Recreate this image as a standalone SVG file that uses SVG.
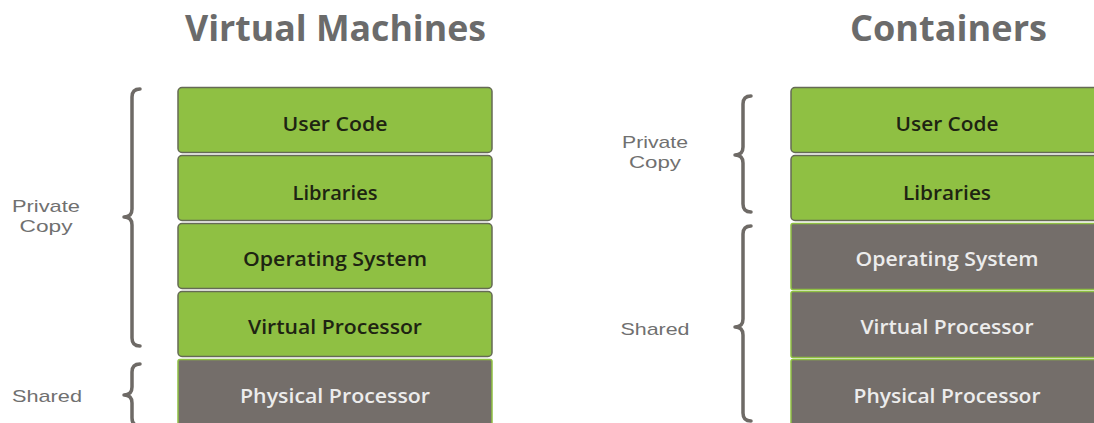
<svg xmlns="http://www.w3.org/2000/svg" width="1094" height="423" viewBox="0 0 1094 423">
<style>
.title{font-family:"Open Sans","Liberation Sans",sans-serif;font-weight:700;font-size:35px;fill:#6b6b6b;text-anchor:middle}
.side{font-family:"Liberation Sans","Open Sans",sans-serif;font-size:17px;fill:#707070;text-anchor:middle}
.lbl{font-family:"Open Sans","Liberation Sans",sans-serif;font-weight:600;font-size:20px;text-anchor:middle}
.g rect{fill:#8fc043;stroke:#656a55;stroke-width:1.5}
.g text{fill:#1e2412}
.d rect{fill:#746e6a;stroke:#8fc043;stroke-width:1.5}
.d text{fill:#ececec}
.brace{fill:none;stroke:#6e6a66;stroke-width:3.5;stroke-linecap:round;stroke-linejoin:round}
</style>
<rect width="1094" height="423" fill="#ffffff"/>
<text class="title" x="335.5" y="41" textLength="301" lengthAdjust="spacingAndGlyphs">Virtual Machines</text>
<text class="title" x="948.5" y="41" textLength="197" lengthAdjust="spacingAndGlyphs">Containers</text>

<g id="vm-user-code" class="g"><rect x="178" y="87.5" width="314" height="65" rx="4"/><text class="lbl" x="335" y="131" textLength="105" lengthAdjust="spacingAndGlyphs">User Code</text></g>
<g id="vm-libraries" class="g"><rect x="178" y="155.5" width="314" height="65" rx="4"/><text class="lbl" x="335" y="200" textLength="85" lengthAdjust="spacingAndGlyphs">Libraries</text></g>
<g id="vm-os" class="g"><rect x="178" y="223.5" width="314" height="65" rx="4"/><text class="lbl" x="335" y="266" textLength="184" lengthAdjust="spacingAndGlyphs">Operating System</text></g>
<g id="vm-vp" class="g"><rect x="178" y="291.5" width="314" height="65" rx="4"/><text class="lbl" x="335" y="334" textLength="174" lengthAdjust="spacingAndGlyphs">Virtual Processor</text></g>
<g id="vm-pp" class="d"><rect x="178" y="359.5" width="314" height="70" rx="2"/><text class="lbl" x="335" y="403" textLength="190" lengthAdjust="spacingAndGlyphs">Physical Processor</text></g>

<g id="ct-user-code" class="g"><rect x="791" y="87.5" width="320" height="65" rx="4"/><text class="lbl" x="947" y="131" textLength="103" lengthAdjust="spacingAndGlyphs">User Code</text></g>
<g id="ct-libraries" class="g"><rect x="791" y="155.5" width="320" height="65" rx="4"/><text class="lbl" x="947" y="200" textLength="88" lengthAdjust="spacingAndGlyphs">Libraries</text></g>
<g id="ct-os" class="d"><rect x="791" y="223.5" width="320" height="66" rx="2"/><text class="lbl" x="947" y="266" textLength="183" lengthAdjust="spacingAndGlyphs">Operating System</text></g>
<g id="ct-vp" class="d"><rect x="791" y="291.5" width="320" height="66" rx="2"/><text class="lbl" x="947" y="334" textLength="173" lengthAdjust="spacingAndGlyphs">Virtual Processor</text></g>
<g id="ct-pp" class="d"><rect x="791" y="359.5" width="320" height="70" rx="2"/><text class="lbl" x="947" y="403" textLength="187" lengthAdjust="spacingAndGlyphs">Physical Processor</text></g>

<g id="vm-private-label"><text class="side" x="46" y="212" textLength="68" lengthAdjust="spacingAndGlyphs">Private</text><text class="side" x="46" y="232" textLength="53" lengthAdjust="spacingAndGlyphs">Copy</text></g>
<g id="vm-shared-label"><text class="side" x="47" y="402" textLength="70" lengthAdjust="spacingAndGlyphs">Shared</text></g>
<g id="ct-private-label"><text class="side" x="655" y="148" textLength="66" lengthAdjust="spacingAndGlyphs">Private</text><text class="side" x="655" y="168" textLength="52" lengthAdjust="spacingAndGlyphs">Copy</text></g>
<g id="ct-shared-label"><text class="side" x="655" y="335" textLength="69" lengthAdjust="spacingAndGlyphs">Shared</text></g>

<g id="braces">
<path class="brace" d="M140 89 Q132 89 132 97 L132 209 Q132 217 124 217 Q132 217 132 225 L132 338 Q132 346 140 346"/>
<path class="brace" d="M140 364 Q132 364 132 372 L132 387 Q132 395 124 395 Q132 395 132 403 L132 418 Q132 426 140 426"/>
<path class="brace" d="M751 96 Q743 96 743 104 L743 147 Q743 155 735 155 Q743 155 743 163 L743 204 Q743 212 751 212"/>
<path class="brace" d="M751 226 Q743 226 743 234 L743 319 Q743 327 735 327 Q743 327 743 335 L743 413 Q743 421 751 421"/>
</g>
</svg>
